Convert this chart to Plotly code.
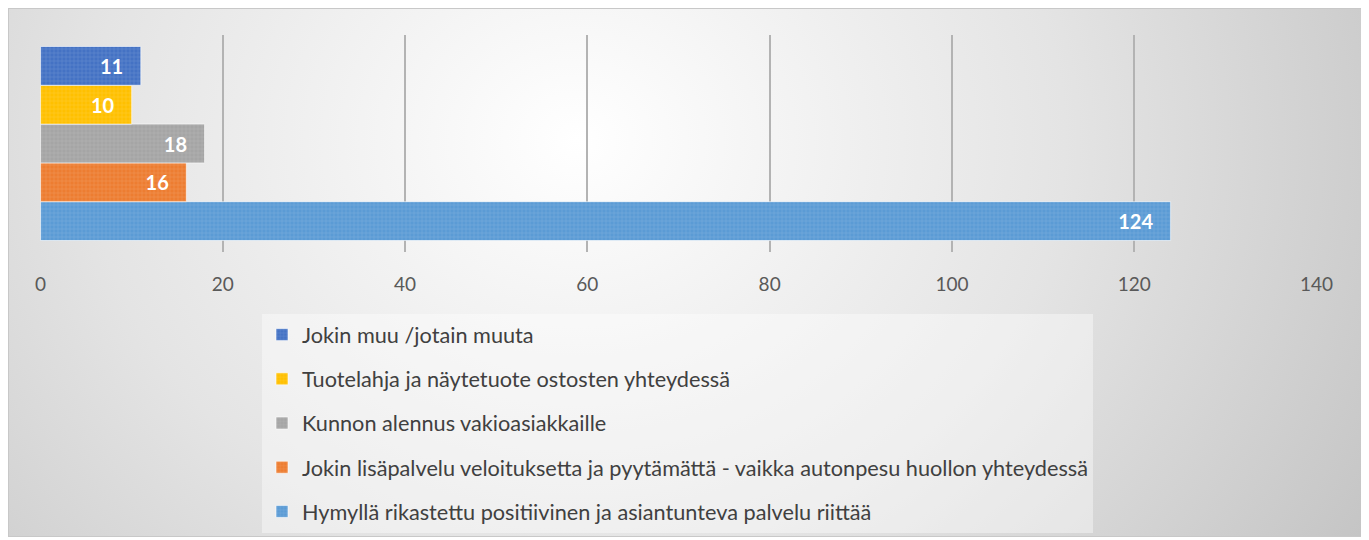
import base64
import plotly.graph_objects as go

series_names = [
    "Hymyllä rikastettu positiivinen ja asiantunteva palvelu riittää",
    "Jokin lisäpalvelu veloituksetta ja pyytämättä - vaikka autonpesu huollon yhteydessä",
    "Kunnon alennus vakioasiakkaille",
    "Tuotelahja ja näytetuote ostosten yhteydessä",
    "Jokin muu /jotain muuta",
]
series_values = [124, 16, 18, 10, 11]
series_colors = ["#5B9BD5", "#ED7D31", "#A5A5A5", "#FFC000", "#4472C4"]
legend_ranks = [5, 4, 3, 2, 1]
category = [""]
x_ticks = [0, 20, 40, 60, 80, 100, 120, 140]

FONT = "Lato, 'Open Sans', sans-serif"
PAD = "\u00a0\u00a0\u00a0"

fig = go.Figure()
for name, val, col, rk in zip(series_names, series_values, series_colors, legend_ranks):
    fig.add_trace(go.Bar(
        y=category, x=[val], name=name, orientation="h",
        legendgroup=name, legendrank=rk,
        marker=dict(color=col,
                    line=dict(color="rgba(255,255,255,0.6)", width=1),
                    pattern=dict(shape="+", fgcolor="rgba(255,255,255,0.35)",
                                 size=4, solidity=0.25)),
        text=[str(val) + PAD], textposition="inside", insidetextanchor="end",
        textfont=dict(color="white", size=20, family=FONT, weight="bold"),
        cliponaxis=False,
    ))

# page body has an 8px margin: figure is sized/offset to compensate
W, H = 1361, 532
BW, BH = 1355, 529
svg = ('<svg xmlns="http://www.w3.org/2000/svg" width="%d" height="%d" '
       'preserveAspectRatio="none" viewBox="0 0 %d %d">'
       '<defs><radialGradient id="g" cx="0.42" cy="0.25" r="0.72" '
       'gradientTransform="translate(0.42,0.25) scale(1,2.2) translate(-0.42,-0.25)">'
       '<stop offset="0" stop-color="#ffffff"/>'
       '<stop offset="0.5" stop-color="#e4e4e4"/>'
       '<stop offset="1" stop-color="#c0c0c0"/></radialGradient></defs>'
       '<rect x="0" y="0" width="%d" height="%d" fill="url(#g)" '
       'stroke="#c8c8c8" stroke-width="2"/></svg>') % (BW, BH, BW, BH, BW, BH)
src = "data:image/svg+xml;base64," + base64.b64encode(svg.encode()).decode()

L, R, T, B = 32, 52, 27, 288
pw, ph = W - L - R, H - T - B

fig.update_layout(
    width=W, height=H,
    margin=dict(l=L, r=R, t=T, b=B, autoexpand=False),
    paper_bgcolor="white",
    plot_bgcolor="rgba(0,0,0,0)",
    barmode="group", bargap=0.106, bargroupgap=0,
    font=dict(family=FONT, color="#595959", size=18),
    showlegend=True,
    legend=dict(
        orientation="v", xref="container", yref="container",
        x=254 / W, y=1 - 306 / H, xanchor="left", yanchor="top",
        traceorder="grouped", tracegroupgap=13,
        bgcolor="rgba(255,255,255,0.4)",
        font=dict(size=21.7, color="#404040", family=FONT),
        itemwidth=30,
    ),
    images=[dict(source=src, xref="paper", yref="paper",
                 x=(0 - L) / pw, y=(H - B) / ph,
                 sizex=BW / pw, sizey=BH / ph,
                 xanchor="left", yanchor="top", sizing="stretch",
                 layer="below")],
    xaxis=dict(range=[-0.06, 140.06], tickvals=x_ticks, showgrid=True,
               gridcolor="#b3b3b3", gridwidth=1.5, zeroline=False,
               ticks="outside", ticklen=15, tickcolor="rgba(0,0,0,0)",
               showline=False,
               tickfont=dict(size=19, color="#595959")),
    yaxis=dict(showticklabels=False, showgrid=False, zeroline=False,
               range=[-0.5, 0.5]),
)

fig.write_html("out.html")
